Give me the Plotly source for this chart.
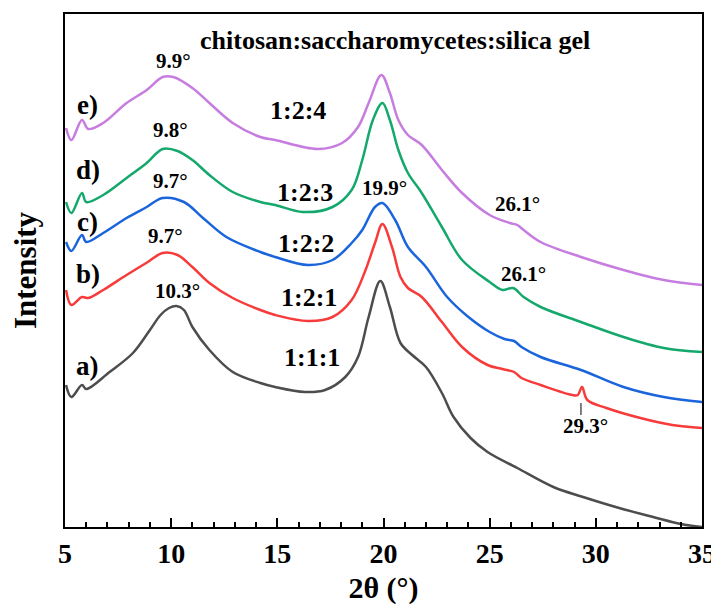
import plotly.graph_objects as go

# 2θ (degrees) and intensity (a.u.)
x_a = [5.05, 5.3, 5.8, 6.0, 7.1, 8.2, 9.0, 9.5, 9.9, 10.25, 10.6, 11.0, 11.8, 12.9, 14.2, 14.9, 16.3, 17.25, 18.2, 18.8, 19.3, 19.85, 20.3, 20.8, 21.35, 22.0, 22.75, 23.3, 24.1, 24.9, 26.3, 28.0, 29.4, 31.1, 32.7, 34.0, 35.0]
y_a = [142, 130, 142, 138, 155, 174, 197, 212, 219, 221, 217, 200, 177, 155, 144, 140, 135, 137, 150, 170, 210, 246, 220, 184, 172, 160, 134, 110, 89, 75, 59, 40, 30, 19, 10, 3, 0]

x_b = [5.05, 5.3, 5.8, 6.1, 6.8, 7.9, 8.9, 9.6, 10.3, 11.0, 11.8, 12.9, 14.2, 14.9, 16.45, 17.6, 18.5, 19.1, 19.6, 19.95, 20.4, 20.8, 21.15, 21.8, 22.75, 23.7, 24.9, 25.6, 26.15, 26.5, 27.4, 28.9, 29.15, 29.35, 29.6, 30.5, 32.1, 33.6, 35.0]
y_b = [237, 222, 230, 229, 237, 252, 265, 274, 272, 260, 244, 229, 217, 212, 206, 210, 227, 254, 284, 303, 280, 250, 239, 230, 205, 180, 162, 158, 155, 149, 142, 132, 132, 140, 127, 119, 109, 102, 99]

x_c = [5.05, 5.3, 5.8, 6.0, 6.8, 7.9, 8.85, 9.6, 10.6, 11.5, 12.6, 14.2, 14.9, 16.45, 17.6, 18.5, 19.0, 19.6, 19.95, 20.55, 21.15, 22.0, 23.0, 24.0, 25.0, 25.7, 26.15, 26.5, 27.4, 29.3, 31.3, 33.2, 35.0]
y_c = [285, 276, 292, 285, 294, 309, 320, 329, 325, 309, 290, 275, 270, 262, 267, 284, 297, 320, 324, 307, 280, 260, 230, 210, 195, 188, 186, 180, 170, 157, 140, 130, 125]

x_d = [5.05, 5.3, 5.8, 6.0, 6.8, 7.9, 8.85, 9.6, 10.3, 11.0, 11.8, 12.9, 14.2, 14.9, 16.2, 17.6, 18.5, 19.0, 19.5, 19.95, 20.3, 20.7, 21.15, 21.8, 22.75, 23.7, 25.0, 25.6, 26.1, 26.6, 27.4, 29.3, 31.3, 33.2, 35.0]
y_d = [325, 314, 334, 325, 332, 349, 364, 378, 376, 367, 352, 335, 325, 322, 315, 320, 337, 367, 407, 424, 407, 377, 354, 334, 300, 267, 245, 237, 239, 230, 220, 205, 190, 179, 175]

x_e = [5.05, 5.3, 5.8, 6.1, 6.8, 7.9, 8.85, 9.6, 10.1, 11.0, 11.8, 12.9, 14.2, 14.9, 16.9, 18.05, 18.8, 19.3, 19.9, 20.3, 20.7, 21.15, 21.8, 22.75, 23.7, 25.0, 25.95, 26.3, 26.6, 27.4, 29.3, 31.3, 33.2, 35.0]
y_e = [399, 387, 407, 398, 404, 424, 437, 450, 450, 439, 424, 404, 390, 387, 378, 384, 400, 424, 452, 434, 407, 392, 382, 357, 334, 312, 304, 302, 297, 285, 270, 257, 247, 242]

series = [
    ("a) 1:1:1", x_a, y_a, "#4d4d4d"),
    ("b) 1:2:1", x_b, y_b, "#f73b3b"),
    ("c) 1:2:2", x_c, y_c, "#1a64dc"),
    ("d) 1:2:3", x_d, y_d, "#14a86c"),
    ("e) 1:2:4", x_e, y_e, "#c67ddf"),
]

x_ticks = [5, 10, 15, 20, 25, 30, 35]

FONT = "Liberation Serif, Times New Roman, serif"

fig = go.Figure()
for name, xs, ys, col in series:
    fig.add_trace(go.Scatter(x=xs, y=ys, mode="lines", name=name,
                             line=dict(color=col, width=2.5, shape="spline", smoothing=1.0),
                             showlegend=False))

ann = []
def A(x, y, t, size):
    ann.append(dict(x=x, y=y, xref="x", yref="y", text="<b>%s</b>" % t, showarrow=False,
                    font=dict(family=FONT, size=size, color="black"),
                    xanchor="center", yanchor="middle"))

A(20.54, 487, "chitosan:saccharomycetes:silica gel", 26)
for lab, y in [("e)", 422), ("d)", 357), ("c)", 305), ("b)", 253), ("a)", 161)]:
    A(6.08, y, lab, 27)
for t, x, y in [("9.9°", 10.09, 466), ("9.8°", 9.99, 397), ("9.7°", 9.99, 346),
                ("9.7°", 9.71, 291), ("10.3°", 10.32, 236), ("19.9°", 20.07, 339),
                ("26.1°", 26.29, 323), ("26.1°", 26.57, 253), ("29.3°", 29.49, 101)]:
    A(x, y, t, 21)
for t, x, y in [("1:2:4", 15.97, 417), ("1:2:3", 16.30, 335), ("1:2:2", 16.35, 284),
                ("1:2:1", 16.49, 230), ("1:1:1", 16.63, 170)]:
    A(x, y, t, 26)

fig.add_shape(type="line", x0=29.3, x1=29.3, y0=112, y1=124, xref="x", yref="y",
              line=dict(color="black", width=1))

# page body adds an 8px offset, so the figure is sized/margined to compensate
fig.update_layout(
    width=711, height=597,
    margin=dict(l=57, r=17, t=6, b=78),
    paper_bgcolor="white", plot_bgcolor="white",
    annotations=ann,
    xaxis=dict(range=[5, 35], tickvals=x_ticks, ticks="inside", ticklen=9, tickwidth=2,
               tickcolor="black", showline=True, linecolor="black", linewidth=2, mirror=True,
               showgrid=False, zeroline=False, ticklabelstandoff=0, automargin=False,
               minor=dict(dtick=1, ticks="inside", ticklen=5, tickwidth=1.5, tickcolor="black", showgrid=False),
               tickfont=dict(family=FONT, size=28, color="black", weight="bold"),
               title=dict(text="2θ (°)", font=dict(family=FONT, size=30, color="black", weight="bold"), standoff=9)),
    yaxis=dict(range=[0, 513], showticklabels=False, ticks="", showline=True, linecolor="black",
               linewidth=2, mirror=True, showgrid=False, zeroline=False, automargin=False,
               title=dict(text="Intensity", font=dict(family=FONT, size=31, color="black", weight="bold"), standoff=20)),
)

fig.write_html("out.html")
